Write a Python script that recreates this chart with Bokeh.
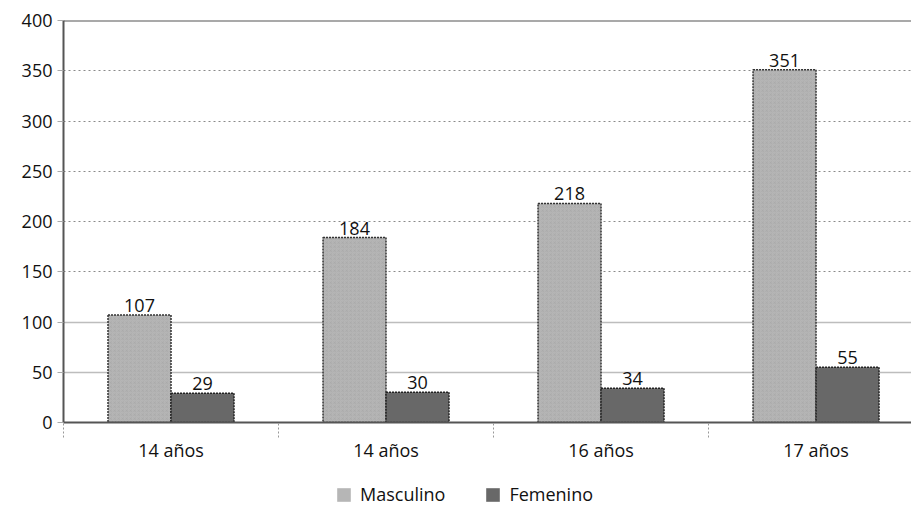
from bokeh.plotting import figure
from bokeh.layouts import column
from bokeh.models import Range1d, FixedTicker, Span, Grid, Legend, LegendItem
from bokeh.core.properties import value
from bokeh.embed import file_html
from bokeh.resources import INLINE

categories = ["14 años", "14 años", "16 años", "17 años"]
masculino = [107, 184, 218, 351]
femenino = [29, 30, 34, 55]
series_names = ["Masculino", "Femenino"]
y_ticks = [0, 50, 100, 150, 200, 250, 300, 350, 400]

FONT = "Open Sans"
MASC_COLOR = "#b6b6b6"
FEM_COLOR = "#686868"

n = len(categories)
centers = [i + 0.5 for i in range(n)]
bw = 0.293
masc_x = [c - bw / 2 for c in centers]
fem_x = [c + bw / 2 for c in centers]

p = figure(width=911, height=470, output_backend="svg", toolbar_location=None,
           x_range=Range1d(0, 3.944), y_range=Range1d(0, 400),
           min_border_left=63, min_border_right=0, min_border_top=20, min_border_bottom=48)
p.outline_line_color = None
p.background_fill_color = "white"

# grids
p.xgrid.grid_line_color = None
p.ygrid.ticker = FixedTicker(ticks=[t for t in y_ticks if 150 <= t <= 350])
p.ygrid.grid_line_color = "#8a8a8a"
p.ygrid.grid_line_dash = "2 3"
p.ygrid.grid_line_width = 1
low_grid = Grid(dimension=1, ticker=FixedTicker(ticks=[t for t in y_ticks if 0 < t < 150]),
                grid_line_color="#bdbdbd", grid_line_width=1.5)
p.add_layout(low_grid)
p.add_layout(Span(location=y_ticks[-1], dimension="width", line_color="#555555", line_width=2))

# y axis
p.yaxis.ticker = FixedTicker(ticks=y_ticks)
p.yaxis.axis_line_color = "#555555"
p.yaxis.axis_line_width = 2
p.yaxis.major_tick_in = 0
p.yaxis.major_tick_out = 6
p.yaxis.major_tick_line_color = "#aaaaaa"
p.yaxis.minor_tick_line_color = None
p.yaxis.major_label_standoff = 5
p.yaxis.major_label_text_font = FONT
p.yaxis.major_label_text_font_size = "18px"
p.yaxis.major_label_text_color = "#111111"

# x axis
p.xaxis.ticker = FixedTicker(ticks=centers, minor_ticks=list(range(n + 1)))
p.xaxis.major_label_overrides = {c: cat for c, cat in zip(centers, categories)}
p.xaxis.axis_line_color = "#555555"
p.xaxis.axis_line_width = 2
p.xaxis.major_tick_line_color = None
p.xaxis.major_tick_in = 0
p.xaxis.major_tick_out = 0
p.xaxis.minor_tick_in = 0
p.xaxis.minor_tick_out = 15
p.xaxis.minor_tick_line_color = "#999999"
p.xaxis.minor_tick_line_dash = "2 2"
p.xaxis.major_label_standoff = 0
p.xaxis.major_label_text_font = FONT
p.xaxis.major_label_text_font_size = "18px"
p.xaxis.major_label_text_color = "#111111"

# bars
p.vbar(x=masc_x, top=masculino, bottom=0, width=bw, fill_color=MASC_COLOR,
       line_color="#333333", line_dash="2 1", line_width=1.5,
       hatch_pattern="criss_cross", hatch_color="#909090", hatch_scale=4,
       hatch_alpha=0.25, hatch_weight=0.5)
p.vbar(x=fem_x, top=femenino, bottom=0, width=bw, fill_color=FEM_COLOR,
       line_color="#222222", line_dash="2 1", line_width=1.5)

# value labels
p.text(x=masc_x, y=masculino, text=[str(v) for v in masculino], text_align="center",
       text_baseline="bottom", y_offset=-3, text_font=value(FONT),
       text_font_size="18px", text_color="#111111")
p.text(x=fem_x, y=femenino, text=[str(v) for v in femenino], text_align="center",
       text_baseline="bottom", y_offset=-3, text_font=value(FONT),
       text_font_size="18px", text_color="#111111")

# legend strip below the chart (legend proxies hold no visible data)
nan = float("nan")
lp = figure(width=911, height=36, output_backend="svg", toolbar_location=None,
            x_range=Range1d(0, 1), y_range=Range1d(0, 1),
            x_axis_location=None, y_axis_location=None, min_border=0)
lp.grid.visible = False
lp.outline_line_color = None
lm = lp.quad(left=[nan], right=[nan], top=[nan], bottom=[nan], fill_color=MASC_COLOR, line_color=None)
lf = lp.quad(left=[nan], right=[nan], top=[nan], bottom=[nan], fill_color=FEM_COLOR, line_color=None)
legend = Legend(items=[LegendItem(label=series_names[0], renderers=[lm]),
                       LegendItem(label=series_names[1], renderers=[lf])],
                orientation="horizontal", location=(272, 0),
                border_line_color=None, background_fill_alpha=0,
                padding=0, margin=0, spacing=39, label_standoff=8,
                glyph_width=17, glyph_height=17, label_height=18,
                label_text_font=FONT, label_text_font_size="18px",
                label_text_color="#111111")
lp.add_layout(legend, "center")

layout = column(p, lp, spacing=0)
open("out.html", "w").write(file_html(layout, INLINE))
